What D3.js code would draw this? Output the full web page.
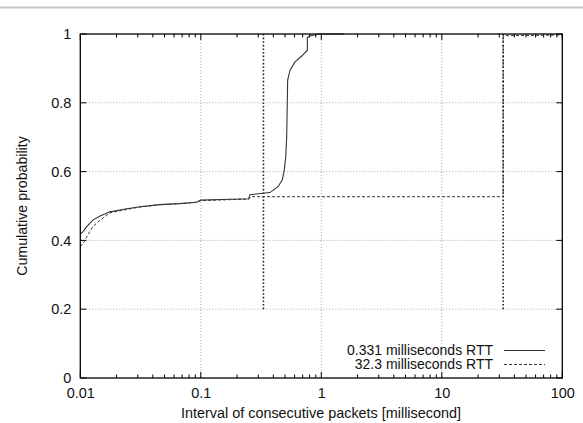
<!DOCTYPE html>
<html><head><meta charset="utf-8">
<script src="https://cdn.jsdelivr.net/npm/d3@7"></script>
<style>body{margin:0;background:#fff}svg{display:block}text{font-family:"Liberation Sans",Arial,sans-serif;fill:#111}</style>
</head><body>
<script>
const xTicks = [0.01, 0.1, 1, 10, 100];
const xTickLabels = ["0.01", "0.1", "1", "10", "100"];
const yTicks = [0, 0.2, 0.4, 0.6, 0.8, 1];
const yTickLabels = ["0", "0.2", "0.4", "0.6", "0.8", "1"];
const seriesNames = ["0.331 milliseconds RTT", "32.3 milliseconds RTT"];
const rttMarkers = [0.331, 32.3];
const rttMarkerRange = [0.2, 1];
// 0.331 ms RTT: [interval ms, cumulative probability]
const solidX = [0.01,0.0105,0.0113,0.0127,0.0146,0.0176,0.0243,0.0313,0.0458,0.067,0.0925,0.1,0.15,0.25,0.256,0.375,0.437,0.475,0.493,0.507,0.516,0.522,0.526,0.55,0.605,0.688,0.766,0.766,0.817,0.962,1.54];
const solidY = [0.418,0.425,0.44,0.459,0.471,0.483,0.492,0.498,0.504,0.507,0.511,0.517,0.519,0.521,0.533,0.539,0.556,0.576,0.605,0.643,0.70,0.80,0.866,0.895,0.919,0.936,0.953,0.99,0.995,1.0,1.0];
// 32.3 ms RTT
const dashX = [0.01,0.0108,0.0113,0.0127,0.0146,0.0176,0.0243,0.0313,0.0458,0.067,0.0925,0.1,0.25,0.26,32.3,32.3,100];
const dashY = [0.382,0.396,0.41,0.44,0.459,0.48,0.49,0.497,0.504,0.507,0.511,0.516,0.520,0.527,0.527,0.995,0.997];

const W = 583, H = 423;
const m = {left: 80.3, right: 562.3, top: 34, bottom: 378};
const svg = d3.select("body").append("svg").attr("width", W).attr("height", H);

svg.append("line").attr("x1", 0).attr("x2", W).attr("y1", 7.5).attr("y2", 7.5)
  .attr("stroke", "#c4c4c4").attr("stroke-width", 2);

const x = d3.scaleLog().domain([0.01, 100]).range([m.left, m.right]);
const y = d3.scaleLinear().domain([0, 1]).range([m.bottom, m.top]);

const g = svg.append("g");
g.selectAll(".gx").data(xTicks.slice(1, -1)).join("line")
  .attr("x1", d => x(d)).attr("x2", d => x(d)).attr("y1", m.top).attr("y2", m.bottom)
  .attr("stroke", "#aaa").attr("stroke-width", 1).attr("stroke-dasharray", "1,2");
g.selectAll(".gy").data(yTicks.slice(1, -1)).join("line")
  .attr("x1", m.left).attr("x2", m.right).attr("y1", d => y(d)).attr("y2", d => y(d))
  .attr("stroke", "#aaa").attr("stroke-width", 1).attr("stroke-dasharray", "1,2");

const minor = [];
for (let e = -2; e < 2; e++) for (let k = 2; k <= 9; k++) minor.push(k * Math.pow(10, e));
const axB = d3.axisBottom(x).tickValues(xTicks).tickFormat((d, i) => xTickLabels[i]).tickSize(0).tickPadding(10);
const tk = svg.append("g");
function vt(vals, len) {
  tk.selectAll(null).data(vals).join("line")
    .attr("x1", d => x(d)).attr("x2", d => x(d)).attr("y1", m.bottom).attr("y2", m.bottom - len)
    .attr("stroke", "#000").attr("stroke-width", 1);
  tk.selectAll(null).data(vals).join("line")
    .attr("x1", d => x(d)).attr("x2", d => x(d)).attr("y1", m.top).attr("y2", m.top + len)
    .attr("stroke", "#000").attr("stroke-width", 1);
}
vt(minor, 3.5);
vt(xTicks, 6);
tk.selectAll(null).data(yTicks).join("line")
  .attr("x1", m.left).attr("x2", m.left + 6).attr("y1", d => y(d)).attr("y2", d => y(d)).attr("stroke", "#000");
tk.selectAll(null).data(yTicks).join("line")
  .attr("x1", m.right).attr("x2", m.right - 6).attr("y1", d => y(d)).attr("y2", d => y(d)).attr("stroke", "#000");

const xa = svg.append("g").attr("transform", `translate(0,${m.bottom})`).call(axB);
xa.select(".domain").remove();
xa.selectAll("text").attr("font-size", 14.5).attr("font-family", "Liberation Sans, Arial, sans-serif").attr("fill", "#111");
const axL = d3.axisLeft(y).tickValues(yTicks).tickFormat((d, i) => yTickLabels[i]).tickSize(0).tickPadding(9);
const ya = svg.append("g").attr("transform", `translate(${m.left},0)`).call(axL);
ya.select(".domain").remove();
ya.selectAll("text").attr("font-size", 14.5).attr("font-family", "Liberation Sans, Arial, sans-serif").attr("fill", "#111");

svg.selectAll(".rtt").data(rttMarkers).join("line")
  .attr("x1", d => x(d)).attr("x2", d => x(d)).attr("y1", y(rttMarkerRange[0])).attr("y2", y(rttMarkerRange[1]))
  .attr("stroke", "#222").attr("stroke-width", 1.6).attr("stroke-dasharray", "1.6,2");

const line = d3.line().x(d => x(d[0])).y(d => y(d[1]));
const solid = solidX.map((v, i) => [v, solidY[i]]);
const dashed = dashX.map((v, i) => [v, dashY[i]]);
svg.append("path").datum(dashed).attr("d", line).attr("fill", "none")
  .attr("stroke", "#333").attr("stroke-width", 1).attr("stroke-dasharray", "3,2");
svg.append("path").datum(solid).attr("d", line).attr("fill", "none")
  .attr("stroke", "#333").attr("stroke-width", 1.1);

svg.append("rect").attr("x", m.left).attr("y", m.top).attr("width", m.right - m.left).attr("height", m.bottom - m.top)
  .attr("fill", "none").attr("stroke", "#000").attr("stroke-width", 1.3);

const lg = svg.append("g");
seriesNames.forEach((n, i) => {
  const yy = 350.5 + i * 14;
  lg.append("text").attr("x", 493).attr("y", yy).attr("dy", "0.35em").attr("text-anchor", "end")
    .attr("font-size", 14).text(n);
  lg.append("line").attr("x1", 504).attr("x2", 545).attr("y1", yy).attr("y2", yy)
    .attr("stroke", "#333").attr("stroke-width", 1).attr("stroke-dasharray", i ? "3,2" : null);
});

svg.append("text").attr("x", 321).attr("y", 413).attr("dy", "0.35em").attr("text-anchor", "middle")
  .attr("font-size", 14.4).text("Interval of consecutive packets [millisecond]");
svg.append("text").attr("transform", "translate(22.5,206) rotate(-90)").attr("dy", "0.35em")
  .attr("text-anchor", "middle").attr("font-size", 14.2).text("Cumulative probability");
</script>
</body></html>
